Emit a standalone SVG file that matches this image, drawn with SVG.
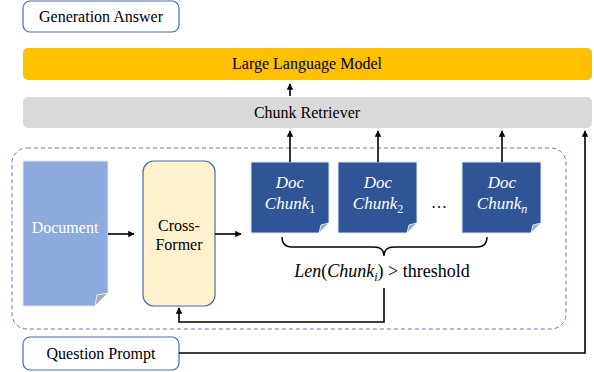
<svg xmlns="http://www.w3.org/2000/svg" width="594" height="372" viewBox="0 0 594 372">
<style>
.t{font-family:'Liberation Serif','Times New Roman',Tinos,'DejaVu Serif',serif;font-size:16px;fill:#000;text-anchor:middle}
.m{font-family:'Liberation Serif','Times New Roman',Tinos,'DejaVu Serif',serif;font-style:italic;font-size:17px;fill:#fff;text-anchor:middle}
.c{font-family:'Liberation Serif','Times New Roman',Tinos,'DejaVu Serif',serif;font-size:18px;fill:#000;text-anchor:middle}
.box{fill:#fff;stroke:#4a6aa5;stroke-width:1.2}
.chunk{fill:#2f5597;stroke:#dfe5f0;stroke-width:1}
.fold{fill:#8ea9db;stroke:#fff;stroke-width:0.8}
.ln{fill:none;stroke:#000;stroke-width:1.6}
</style>
<defs>
<marker id="ah" viewBox="0 0 10 10" refX="9" refY="5" markerWidth="4" markerHeight="4" orient="auto" markerUnits="strokeWidth">
<path d="M0,0 L10,5 L0,10 Z" fill="#000"/>
</marker>
</defs>

<g id="generation-answer">
<rect class="box" x="23" y="1" width="156" height="31" rx="7"/>
<text class="t" x="101" y="22">Generation Answer</text>
</g>

<g id="llm">
<rect x="23" y="48" width="569" height="32" rx="5" fill="#ffc000"/>
<text class="t" x="307" y="69">Large Language Model</text>
</g>

<g id="chunk-retriever">
<rect x="23" y="97" width="569" height="31" rx="5" fill="#d9d9d9"/>
<text class="t" x="307" y="118">Chunk Retriever</text>
</g>

<g id="container">
<rect x="12" y="148" width="554" height="181" rx="15" fill="none" stroke="#5b7db8" stroke-width="1" stroke-dasharray="4,3"/>
</g>

<g id="document">
<path d="M23,161 H108 V293 L95,306 H23 Z" fill="#8ea9db" stroke="#dfe5f0" stroke-width="1"/>
<path d="M95,306 L97,295 L108,293 Z" fill="#a4a9bb" stroke="#fff" stroke-width="0.8"/>
<text class="t" x="65" y="233" style="fill:#fff">Document</text>
</g>

<g id="cross-former">
<rect x="143" y="161" width="72" height="145" rx="11" fill="#fff2cc" stroke="#4a6aa5" stroke-width="1.2"/>
<text class="t" x="179" y="231">Cross-</text>
<text class="t" x="179" y="250">Former</text>
</g>

<g id="chunk-1">
<path class="chunk" d="M251,162 H329 V223 L319,233 H251 Z"/>
<path class="fold" d="M319,233 L321,225 L329,223 Z"/>
<text class="m" x="290" y="188">Doc</text>
<text class="m" x="290" y="209">Chunk<tspan font-size="12" dy="4" font-style="normal">1</tspan></text>
</g>

<g id="chunk-2">
<path class="chunk" d="M338,162 H417 V223 L407,233 H338 Z"/>
<path class="fold" d="M407,233 L409,225 L417,223 Z"/>
<text class="m" x="378" y="188">Doc</text>
<text class="m" x="378" y="209">Chunk<tspan font-size="12" dy="4" font-style="normal">2</tspan></text>
</g>

<g id="ellipsis">
<text class="t" x="439" y="208">…</text>
</g>

<g id="chunk-n">
<path class="chunk" d="M462,162 H541 V223 L531,233 H462 Z"/>
<path class="fold" d="M531,233 L533,225 L541,223 Z"/>
<text class="m" x="502" y="188">Doc</text>
<text class="m" x="502" y="209">Chunk<tspan font-size="12" dy="4">n</tspan></text>
</g>

<g id="condition">
<path d="M282,237 Q282,247 292,247 H374 Q384,247 384,256 Q384,247 394,247 H477 Q487,247 487,237" fill="none" stroke="#000" stroke-width="1.4"/>
<text class="c" x="382" y="277"><tspan font-style="italic">Len</tspan>(<tspan font-style="italic">Chunk</tspan><tspan font-style="italic" font-size="12" dy="4">i</tspan><tspan dy="-4">) &gt; threshold</tspan></text>
</g>

<g id="question-prompt">
<rect class="box" x="23" y="337" width="156" height="33" rx="7"/>
<text class="t" x="101" y="359">Question Prompt</text>
</g>

<g id="connectors">
<line class="ln" x1="290" y1="96" x2="290" y2="84" marker-end="url(#ah)"/>
<line class="ln" x1="108" y1="234" x2="134" y2="234" marker-end="url(#ah)"/>
<line class="ln" x1="215" y1="234" x2="241" y2="234" marker-end="url(#ah)"/>
<line class="ln" x1="290" y1="162" x2="290" y2="131" marker-end="url(#ah)"/>
<line class="ln" x1="378" y1="162" x2="378" y2="131" marker-end="url(#ah)"/>
<line class="ln" x1="502" y1="162" x2="502" y2="131" marker-end="url(#ah)"/>
<polyline class="ln" points="384,288 384,322 179,322 179,308" marker-end="url(#ah)"/>
<polyline class="ln" points="179,353 585,353 585,131" marker-end="url(#ah)"/>
</g>
</svg>
